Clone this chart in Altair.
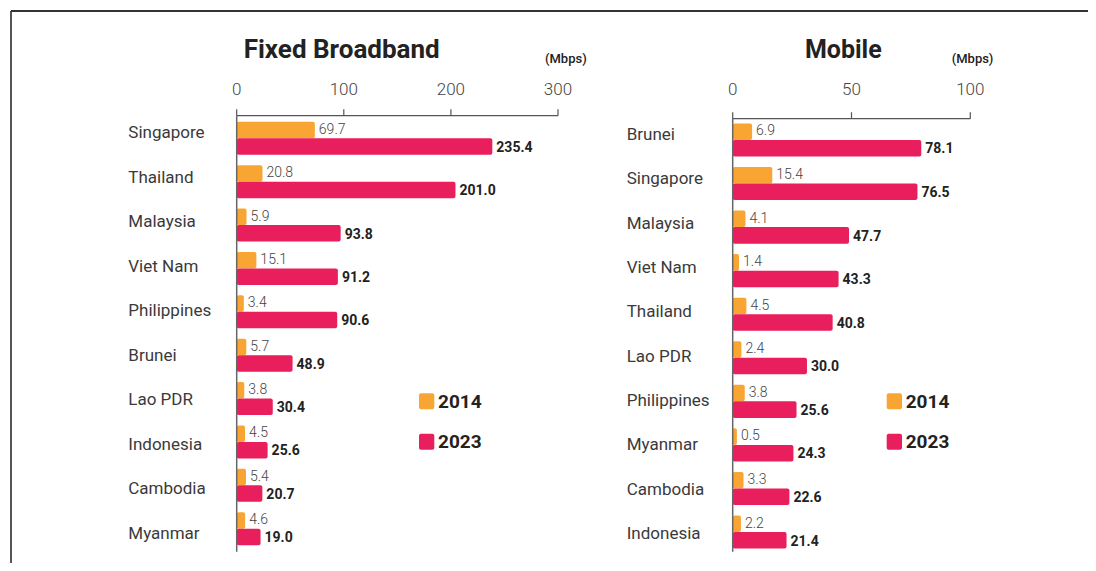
import altair as alt
import pandas as pd

years = ["2014", "2023"]
colors = ["#F9A533", "#E91E5C"]

bb_countries = ["Singapore", "Thailand", "Malaysia", "Viet Nam", "Philippines",
                "Brunei", "Lao PDR", "Indonesia", "Cambodia", "Myanmar"]
bb_2014 = [69.7, 20.8, 5.9, 15.1, 3.4, 5.7, 3.8, 4.5, 5.4, 4.6]
bb_2023 = [235.4, 201.0, 93.8, 91.2, 90.6, 48.9, 30.4, 25.6, 20.7, 19.0]
bb_ticks = [0, 100, 200, 300]

mob_countries = ["Brunei", "Singapore", "Malaysia", "Viet Nam", "Thailand",
                 "Lao PDR", "Philippines", "Myanmar", "Cambodia", "Indonesia"]
mob_2014 = [6.9, 15.4, 4.1, 1.4, 4.5, 2.4, 3.8, 0.5, 3.3, 2.2]
mob_2023 = [78.1, 76.5, 47.7, 43.3, 40.8, 30.0, 25.6, 24.3, 22.6, 21.4]
mob_ticks = [0, 50, 100]

titles = ["Fixed Broadband", "Mobile"]
unit = "(Mbps)"

FONT = "Roboto"


def long_df(countries, v14, v23):
    rows = []
    for c, a, b in zip(countries, v14, v23):
        rows.append({"country": c, "year": years[0], "value": a, "label": f"{a:.1f}"})
        rows.append({"country": c, "year": years[1], "value": b, "label": f"{b:.1f}"})
    return pd.DataFrame(rows)


def panel(countries, v14, v23, ticks, xr, bar_shift, yr, lab_r, axis_y, tick_label_y,
          vline_end, label_x, title, title_x, title_size, unit_x, legend_x):
    df = long_df(countries, v14, v23)
    dom = [min(ticks), max(ticks)]
    xs = alt.Scale(domain=dom, range=xr, nice=False, zero=True)
    # bars (and their labels) start at the axis but run a few px further, as in the source
    bxs = alt.Scale(domain=dom, range=[xr[0] + bar_shift, xr[1] + bar_shift], nice=False, zero=True)
    ys = alt.Scale(domain=countries, range=yr, paddingInner=0.24, paddingOuter=0.12)
    yos = alt.Scale(domain=years, paddingInner=0, paddingOuter=0)
    ls = alt.Scale(domain=countries, range=lab_r, paddingInner=0, paddingOuter=0)

    base = alt.Chart(df)
    enc_y = alt.Y("country:N", scale=ys, axis=None)

    bars = base.mark_rect(cornerRadius=2).encode(
        x=alt.X("value:Q", scale=bxs, axis=None),
        x2=alt.value(xr[0]),
        y=enc_y,
        yOffset=alt.YOffset("year:N", scale=yos),
        color=alt.Color("year:N", scale=alt.Scale(domain=years, range=colors), legend=None),
    )
    t14 = base.transform_filter(alt.datum.year == years[0]).mark_text(
        align="left", baseline="middle", dx=4, dy=-8.5, fontSize=14, font=FONT,
        fontWeight=300, color="#444444"
    ).encode(x=alt.X("value:Q", scale=bxs, axis=None), y=enc_y, text="label:N")
    t23 = base.transform_filter(alt.datum.year == years[1]).mark_text(
        align="left", baseline="middle", dx=4, dy=9.5, fontSize=14, font=FONT,
        fontWeight="bold", color="#222222"
    ).encode(x=alt.X("value:Q", scale=bxs, axis=None), y=enc_y, text="label:N")

    cat = alt.Chart(pd.DataFrame({"country": countries})).mark_text(
        align="left", baseline="middle", fontSize=17, font=FONT, color="#3a3a3a"
    ).encode(x=alt.value(label_x), y=alt.Y("country:N", scale=ls, axis=None), text="country:N")

    tdf = pd.DataFrame({"tick": ticks})
    tick_rules = alt.Chart(tdf).mark_rule(color="#555555", strokeWidth=1.2).encode(
        x=alt.X("tick:Q", scale=xs, axis=None),
        y=alt.value(axis_y - 6.5), y2=alt.value(axis_y),
    )
    tick_text = alt.Chart(tdf).mark_text(
        baseline="middle", fontSize=17, font=FONT, fontWeight=300, color="#444444"
    ).encode(x=alt.X("tick:Q", scale=xs, axis=None), y=alt.value(tick_label_y), text="tick:Q")

    rdf = pd.DataFrame({"lo": [min(ticks)], "hi": [max(ticks)]})
    axis_line = alt.Chart(rdf).mark_rule(color="#555555", strokeWidth=1.2).encode(
        x=alt.X("lo:Q", scale=xs, axis=None), x2="hi:Q", y=alt.value(axis_y)
    )
    vline = alt.Chart(rdf).mark_rule(color="#666666", strokeWidth=1.5).encode(
        x=alt.X("lo:Q", scale=xs, axis=None), y=alt.value(axis_y), y2=alt.value(vline_end)
    )

    title_t = alt.Chart(pd.DataFrame({"t": [title]})).mark_text(
        align="center", baseline="middle", fontSize=title_size, font=FONT, fontWeight="bold",
        color="#222222"
    ).encode(x=alt.value(title_x), y=alt.value(42), text="t:N")
    unit_t = alt.Chart(pd.DataFrame({"t": [unit]})).mark_text(
        align="left", baseline="middle", fontSize=13, font=FONT, fontWeight=500,
        color="#222222"
    ).encode(x=alt.value(unit_x), y=alt.value(50.5), text="t:N")

    leg = []
    for i, (yr_lab, col) in enumerate(zip(years, colors)):
        top = 385.3 + i * 40.5
        leg.append(alt.Chart(pd.DataFrame({"t": [yr_lab]})).mark_rect(
            cornerRadius=2, color=col
        ).encode(x=alt.value(legend_x), x2=alt.value(legend_x + 15.3),
                 y=alt.value(top), y2=alt.value(top + 16)))
        leg.append(alt.Chart(pd.DataFrame({"t": [yr_lab]})).mark_text(
            align="left", baseline="middle", fontSize=19, font=FONT, fontWeight="bold",
            color="#222222"
        ).encode(x=alt.value(legend_x + 19), y=alt.value(top + 8.5), text="t:N"))

    return [bars, t14, t23, cat, tick_rules, tick_text, axis_line, vline, title_t, unit_t] + leg


layers = []
layers += panel(bb_countries, bb_2014, bb_2023, bb_ticks,
                xr=[228.7, 550.0], bar_shift=3.5, yr=[108.6, 542.4], lab_r=[102.7, 548.3],
                axis_y=107.7, tick_label_y=81.5,
                vline_end=543.7, label_x=120.3, title=titles[0], title_x=333.7,
                title_size=26, unit_x=537, legend_x=411)
layers += panel(mob_countries, mob_2014, mob_2023, mob_ticks,
                xr=[724.7, 962.3], bar_shift=3.0, yr=[110.2, 545.8], lab_r=[104.8, 548.2],
                axis_y=110.7, tick_label_y=82,
                vline_end=543.7, label_x=618.7, title=titles[1], title_x=835.3,
                title_size=25, unit_x=943.7, legend_x=878.7)

frame_df = pd.DataFrame({"k": [1]})
frame_left = alt.Chart(frame_df).mark_rule(color="#555555", strokeWidth=2).encode(
    x=alt.value(3), y=alt.value(3), y2=alt.value(555)
)
frame_top = alt.Chart(frame_df).mark_rule(color="#333333", strokeWidth=2).encode(
    x=alt.value(3), x2=alt.value(1080), y=alt.value(3)
)
layers += [frame_left, frame_top]

chart = alt.layer(*layers).resolve_scale(
    x="independent", y="independent", yOffset="independent", color="independent"
).properties(
    width=1080, height=555, padding=0, autosize=alt.AutoSizeParams(type="none")
).configure_view(stroke=None)

chart.save("out.html", embed_options={"renderer": "svg", "actions": False})
